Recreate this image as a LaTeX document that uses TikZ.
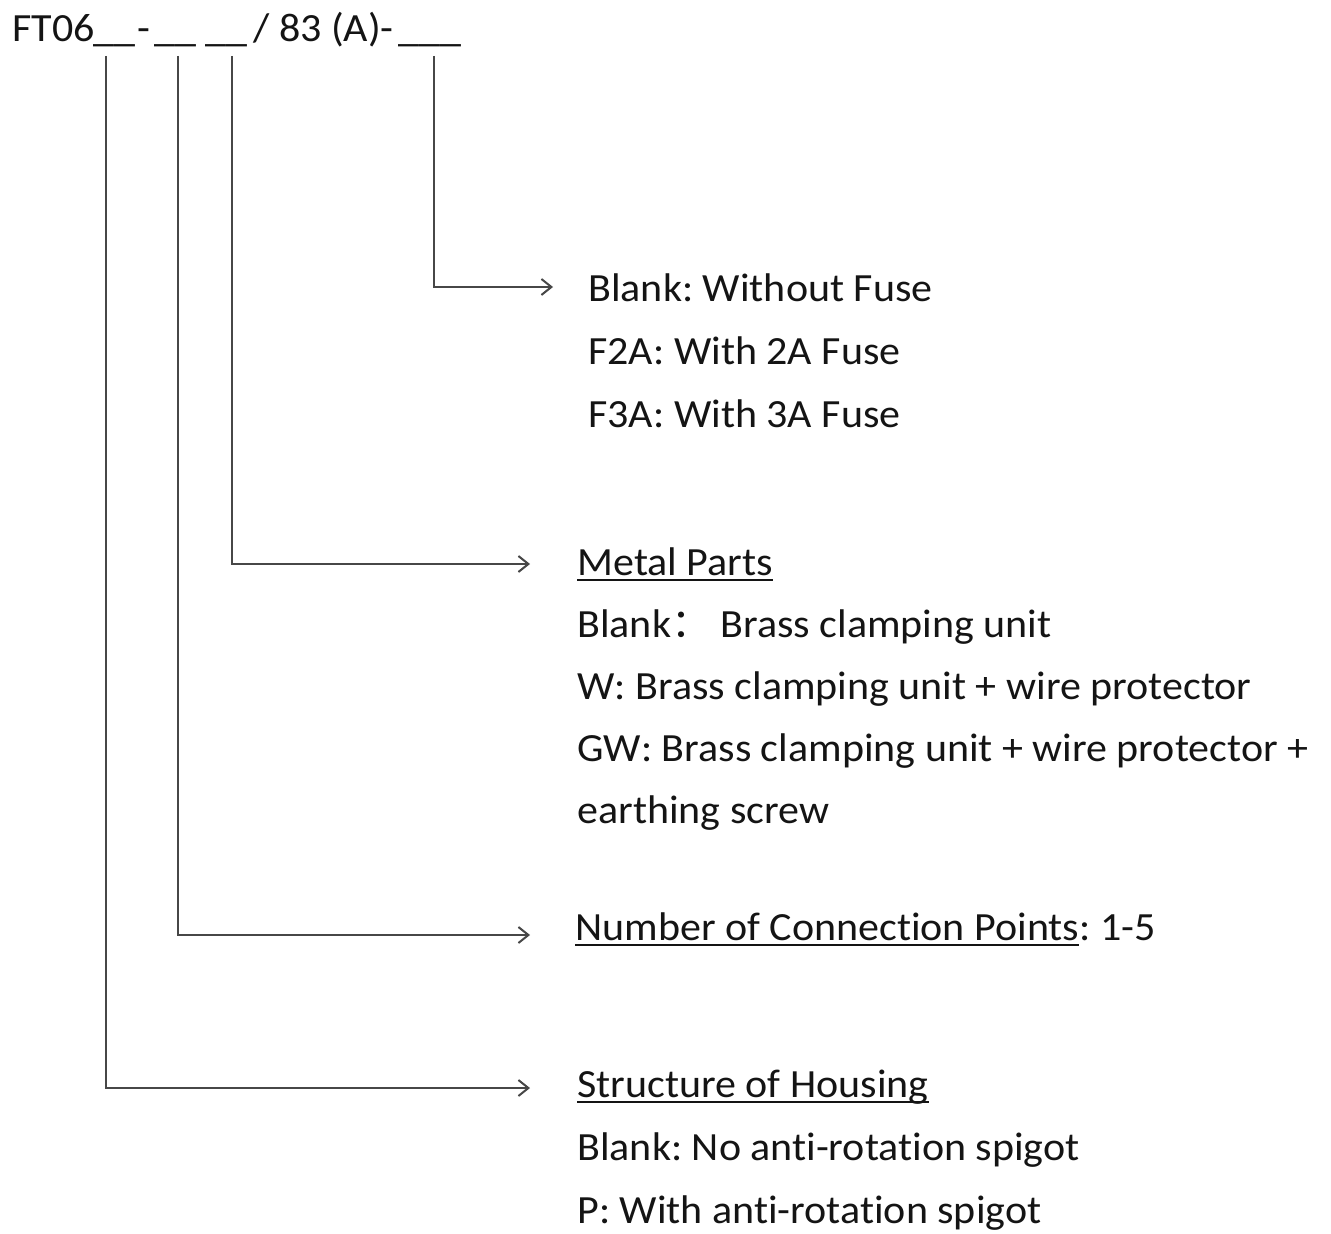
\documentclass[tikz,border=0pt]{standalone}
\usepackage{fontspec}
\setmainfont{Carlito}[Ligatures=NoCommon, FakeStretch=1.05]
\newfontfamily\cjk{Noto Sans CJK SC}
\newsavebox\ulbox
\newcommand\ulin[1]{\sbox\ulbox{#1}\rlap{\rule[-3pt]{\wd\ulbox}{0.9pt}}\usebox\ulbox}
\frenchspacing
\usetikzlibrary{arrows.meta, positioning}

\begin{document}
\begin{tikzpicture}[x=0.5pt, y=-0.5pt,
  txt/.style={anchor=base west, inner sep=0pt, font=\fontsize{20}{24}\selectfont, text=black!92},
  blank/.style={txt, anchor=base},
  arr/.style={-{Straight Barb[length=5pt, width=8pt]}, line width=1pt, black!72},
]
  \useasboundingbox (0,0) rectangle (1331,1234);

  % part number
  \node[txt] (ft) at (12,42) {FT06};
  \node[blank] (u1) at (114,42) {\_\_};
  \node[txt] (d1) at (137,42) {-};
  \node[blank] (u2) at (175,42) {\_\_};
  \node[blank] (u3) at (226,42) {\_\_};
  \node[txt] (mid) at (253,42) {/ 83 (A)-};
  \node[blank] (u4) at (430,42) {\_\_\_};

  % fuse
  \node[txt] (fuse) at (588,302) {Blank: Without Fuse};
  \node[txt] (f2a) at (588,365) {F2A: With 2A Fuse};
  \node[txt] (f3a) at (588,428) {F3A: With 3A Fuse};

  % metal parts
  \node[txt] (metal) at (577,575) {\ulin{Metal Parts}};
  \node[txt] (m1) at (577,637) {Blank{\cjk ：} Brass clamping unit};
  \node[txt] (m2) at (577,699) {W: Brass clamping unit + wire protector};
  \node[txt] (m3) at (577,761) {GW: Brass clamping unit + wire protector +};
  \node[txt] (m4) at (577,823) {earthing screw};

  % connection points
  \node[txt] (conn) at (575,940) {\ulin{Number of Connection Points}: 1-5};

  % housing
  \node[txt] (house) at (577,1097) {\ulin{Structure of Housing}};
  \node[txt] (h1) at (577,1160) {Blank: No anti-rotation spigot};
  \node[txt] (h2) at (577,1223) {P: With anti-rotation spigot};

  \coordinate (e4) at (553,287);
  \coordinate (e3) at (530,564);
  \coordinate (e2) at (530,935);
  \coordinate (e1) at (530,1088);

  \draw[arr] ([xshift=2pt, yshift=-4pt]u4.south) |- (e4);
  \draw[arr] ([xshift=3pt, yshift=-4pt]u3.south) |- (e3);
  \draw[arr] ([xshift=1.5pt, yshift=-4pt]u2.south) |- (e2);
  \draw[arr] ([xshift=-4pt, yshift=-4pt]u1.south) |- (e1);
\end{tikzpicture}
\end{document}
